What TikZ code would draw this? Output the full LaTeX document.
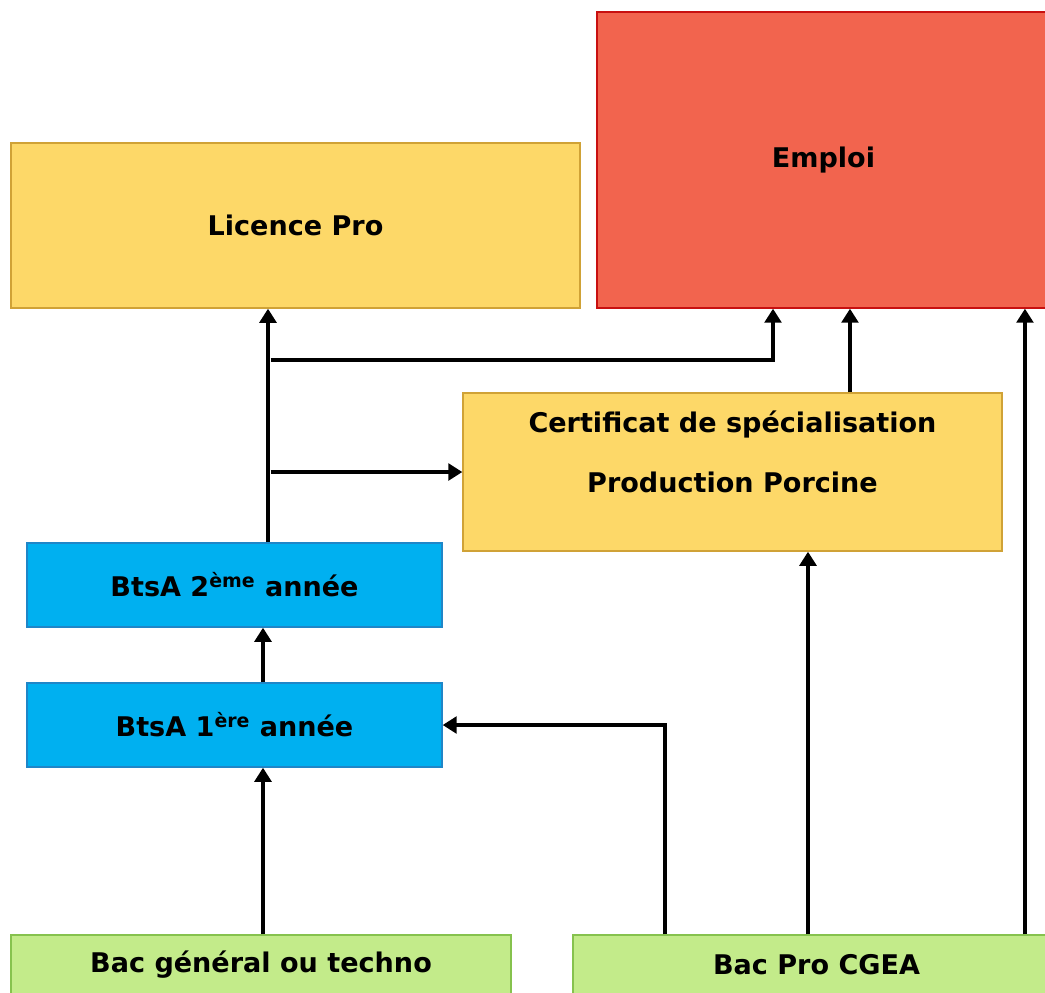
\documentclass[tikz,border=0pt]{standalone}
\usepackage{fontspec}
\setmainfont{DejaVu Sans}
\usetikzlibrary{arrows.meta, calc, positioning}

\definecolor{jaune}{HTML}{FDD868}
\definecolor{jauneBord}{HTML}{D0A236}
\definecolor{rouge}{HTML}{F2644E}
\definecolor{rougeBord}{HTML}{C81010}
\definecolor{bleu}{HTML}{00B0F0}
\definecolor{bleuBord}{HTML}{1F86C8}
\definecolor{vert}{HTML}{C3EB8A}
\definecolor{vertBord}{HTML}{86C24E}

\begin{document}
\begin{tikzpicture}[x=0.02cm, y=-0.02cm, >={Triangle[length=8pt,width=9.5pt]},
	font=\fontsize{15.4}{18}\selectfont\bfseries]
	\tikzstyle{boite} = [draw, line width=0.8pt, rectangle, inner sep=0pt]
	\tikzstyle{fleche} = [->, line width=2.6pt]

	\clip (0,0) rectangle (1045,992);

	% les formations
	\node[boite, fill=jaune, draw=jauneBord, minimum width=11.38cm, minimum height=3.3cm] (licence) at (295.5,225.5) {Licence Pro};
	\node[boite, fill=rouge, draw=rougeBord, minimum width=9.06cm, minimum height=5.92cm] (emploi) at (823.5,160) {Emploi};
	\node[boite, fill=jaune, draw=jauneBord, minimum width=10.78cm, minimum height=3.16cm] (cert) at (732.5,472) {};
	\node[align=center, font=\fontsize{15.4}{34}\selectfont\bfseries] (certtexte) at ([yshift=0.4cm]cert.center) {Certificat de spécialisation\\Production Porcine};
	\node[boite, fill=bleu, draw=bleuBord, minimum width=8.3cm, minimum height=1.68cm] (btsa2) at (234.5,585) {BtsA 2\textsuperscript{ème} année};
	\node[boite, fill=bleu, draw=bleuBord, minimum width=8.3cm, minimum height=1.68cm] (btsa1) at (234.5,725) {BtsA 1\textsuperscript{ère} année};
	\node[boite, fill=vert, draw=vertBord, minimum width=10cm, minimum height=1.2cm] (bacgen) at (261,965) {Bac général ou techno};
	\node[boite, fill=vert, draw=vertBord, minimum width=9.74cm, minimum height=1.2cm] (bacpro) at (816.5,965) {Bac Pro CGEA};

	\coordinate (j1) at (268,360);
	\coordinate (j2) at (268,472);

	% les fleches
	\draw[fleche] ([xshift=0.04cm]bacgen.north) -- ([xshift=0.04cm]bacgen.north |- btsa1.south);
	\draw[fleche] ([xshift=0.57cm]btsa1.north) -- ([xshift=0.57cm]btsa1.north |- btsa2.south);
	\draw[fleche] ([xshift=0.67cm]btsa2.north) -- ([xshift=0.67cm]btsa2.north |- licence.south);
	\draw[fleche] ([xshift=1.5pt]j2) -- (j2 -| cert.west);
	\draw[fleche] ([xshift=1.5pt]j1) -| ([xshift=-1.01cm]emploi.south);
	\draw[fleche] ([xshift=2.35cm]cert.north) -- ([xshift=2.35cm]cert.north |- emploi.south);
	\draw[fleche] ([xshift=-0.17cm]bacpro.north) -- ([xshift=-0.17cm]bacpro.north |- cert.south);
	\draw[fleche] ([xshift=-3.03cm]bacpro.north) |- (btsa1.east);
	\draw[fleche] ([xshift=4.17cm]bacpro.north) -- ([xshift=4.17cm]bacpro.north |- emploi.south);
\end{tikzpicture}
\end{document}
